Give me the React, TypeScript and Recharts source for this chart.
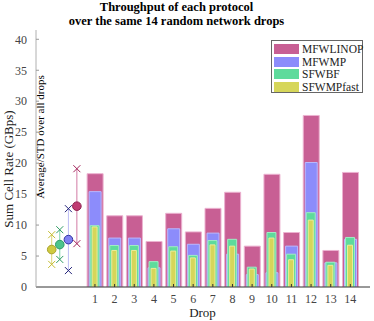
import React from 'react';
import { ComposedChart, Bar, Scatter, XAxis, YAxis } from 'recharts';

// per-drop throughput (GBps)
const drops = [1, 2, 3, 4, 5, 6, 7, 8, 9, 10, 11, 12, 13, 14];
const mfwlinop = [18.3, 11.5, 11.5, 7.35, 11.9, 8.9, 12.7, 15.3, 6.6, 18.2, 8.8, 27.7, 5.9, 18.5];
const mfwmp = [15.4, 7.9, 7.9, 3.1, 9.4, 6.9, 8.7, 5.3, 2.0, 2.3, 6.6, 20.1, 3.9, 7.7];
const sfwbf = [9.9, 6.7, 6.7, 4.1, 6.5, 5.1, 7.5, 7.7, 3.2, 8.8, 5.3, 12.0, 4.0, 8.0];
const sfwmpfast = [9.7, 5.9, 5.9, 3.0, 5.8, 4.7, 6.8, 6.6, 2.9, 7.9, 4.4, 10.8, 3.5, 6.75];

// average / std over all drops, one per protocol
const protocols = ['MFWLINOP', 'MFWMP', 'SFWBF', 'SFWMPfast'];
const statPos = [0.08, -0.35, -0.79, -1.2];
const statMean = [13.05, 7.65, 6.85, 6.05];
const statStd = [6.05, 5.0, 2.4, 2.4];

const yTicks = [0, 5, 10, 15, 20, 25, 30, 35, 40];

const xDomain = [-2, 15];
const yDomain = [0, 41.5];

const barFill = ['#c85f94', '#8c8cfb', '#5edb9c', '#d6d65a'];
const barEdge = ['#ecb2d0', '#b9b9ff', '#a0ecc4', '#ecec9a'];
const barWidths = [16, 12, 9, 5];
const barKeys = ['mfwlinop', 'mfwmp', 'sfwbf', 'sfwmpfast'];

const meanFill = ['#c03c72', '#8080f2', '#4cc48c', '#cfcb40'];
const meanEdge = ['#8f1f4e', '#3434a0', '#2d9a66', '#a9a12a'];
const crossColor = ['#a3245a', '#24247a', '#2e9b63', '#c4bc30'];
const rangeLine = ['#d27aa5', '#bcbcf4', '#7ed5aa', '#dcd678'];

const tableData = drops.map((d, i) => ({
  drop: d,
  mfwlinop: mfwlinop[i],
  mfwmp: mfwmp[i],
  sfwbf: sfwbf[i],
  sfwmpfast: sfwmpfast[i],
}));

const serif = '"Liberation Serif", "DejaVu Serif", serif';
const tickStyle = { fill: '#444', fontSize: 12, fontFamily: 'Liberation Serif' };

const Cross = (color: string) => (props: any) => {
  const { cx, cy } = props;
  const s = 3.5;
  return (
    <path
      d={`M${cx - s},${cy - s}L${cx + s},${cy + s}M${cx - s},${cy + s}L${cx + s},${cy - s}`}
      stroke={color}
      strokeWidth={1}
      fill="none"
    />
  );
};

const Dot = (fill: string, edge: string) => (props: any) => (
  <circle cx={props.cx} cy={props.cy} r={4.3} fill={fill} stroke={edge} strokeWidth={1} />
);

const App: React.FC = () => {
  return (
    <div style={{ position: 'fixed', left: 0, top: 0, width: 374, height: 321, background: '#fff', fontFamily: serif }}>
      <div
        style={{
          position: 'absolute', left: 0, width: 353, top: 1, textAlign: 'center',
          fontWeight: 'bold', fontSize: 12.5, lineHeight: '13.5px', color: '#000',
        }}
      >
        Throughput of each protocol
        <br />
        over the same 14 random network drops
      </div>

      <ComposedChart
        width={374} height={321} data={tableData}
        margin={{ top: 30, right: 4, bottom: 14, left: 6 }}
        style={{ fontFamily: serif }}
      >
        <XAxis
          xAxisId="b0" dataKey="drop" type="number" domain={xDomain} allowDataOverflow
          ticks={drops} interval={0} height={20} tickSize={-3} tickMargin={10}
          tick={tickStyle} axisLine={{ stroke: '#333' }} tickLine={{ stroke: '#333' }}
        />
        <XAxis
          xAxisId="top" orientation="top" type="number" domain={xDomain} allowDataOverflow
          ticks={drops} interval={0} height={0} tickSize={-3} tick={false}
          axisLine={{ stroke: '#555' }} tickLine={{ stroke: '#555' }}
        />
        <XAxis xAxisId="b1" dataKey="drop" type="number" domain={xDomain} allowDataOverflow hide />
        <XAxis xAxisId="b2" dataKey="drop" type="number" domain={xDomain} allowDataOverflow hide />
        <XAxis xAxisId="b3" dataKey="drop" type="number" domain={xDomain} allowDataOverflow hide />
        <XAxis xAxisId="s" dataKey="x" type="number" domain={xDomain} allowDataOverflow hide />

        <YAxis
          yAxisId="left" type="number" domain={yDomain} allowDataOverflow ticks={yTicks} interval={0}
          width={30} tickSize={-3} tickMargin={12} tick={tickStyle}
          axisLine={{ stroke: '#b0b0b0' }} tickLine={{ stroke: '#999' }}
        />
        <YAxis
          yAxisId="right" orientation="right" type="number" domain={yDomain} allowDataOverflow
          ticks={yTicks} interval={0} width={0} tickSize={-3} tick={false}
          axisLine={{ stroke: '#555' }} tickLine={{ stroke: '#555' }}
        />
        <YAxis yAxisId="sy" dataKey="y" type="number" domain={yDomain} allowDataOverflow hide />

        {barKeys.map((k, i) => (
          <Bar
            key={k}
            dataKey={k}
            name={protocols[i]}
            xAxisId={'b' + i}
            yAxisId="left"
            barSize={barWidths[i]}
            fill={barFill[i]}
            stroke={barEdge[i]}
            strokeWidth={1}
            isAnimationActive={false}
          />
        ))}

        {protocols.map((p, i) => (
          <Scatter
            key={'r' + p}
            xAxisId="s"
            yAxisId="sy"
            data={[
              { x: statPos[i], y: statMean[i] - statStd[i] },
              { x: statPos[i], y: statMean[i] + statStd[i] },
            ]}
            line={{ stroke: rangeLine[i], strokeWidth: 1 }}
            shape={Cross(crossColor[i])}
            isAnimationActive={false}
          />
        ))}
        {protocols.map((p, i) => (
          <Scatter
            key={'m' + p}
            xAxisId="s"
            yAxisId="sy"
            data={[{ x: statPos[i], y: statMean[i] }]}
            shape={Dot(meanFill[i], meanEdge[i])}
            isAnimationActive={false}
          />
        ))}
      </ComposedChart>

      <div
        style={{
          position: 'absolute', left: 8.5, top: 169, transform: 'translate(-50%,-50%) rotate(-90deg)',
          whiteSpace: 'nowrap', fontSize: 13, color: '#222',
        }}
      >
        Sum Cell Rate (GBps)
      </div>
      <div
        style={{
          position: 'absolute', left: 40, top: 137, transform: 'translate(-50%,-50%) rotate(-90deg)',
          whiteSpace: 'nowrap', fontSize: 11, color: '#000',
        }}
      >
        Average/STD over all drops
      </div>
      <div
        style={{
          position: 'absolute', left: 202.5, top: 313, transform: 'translate(-50%,-50%)',
          whiteSpace: 'nowrap', fontSize: 13, color: '#222',
        }}
      >
        Drop
      </div>

      <div
        style={{
          position: 'absolute', left: 271, top: 40, width: 90, height: 51, border: '1px solid #666',
          background: '#fff',
        }}
      >
        {protocols.map((p, i) => (
          <div key={p} style={{ position: 'absolute', left: 2, top: 2 + i * 12.7, height: 12, display: 'flex', alignItems: 'center' }}>
            <div style={{ width: 25, height: 10, background: barFill[i] }} />
            <span style={{ marginLeft: 3, fontSize: 11.5, color: '#222', lineHeight: '12px' }}>{p}</span>
          </div>
        ))}
      </div>
    </div>
  );
};

export default App;
